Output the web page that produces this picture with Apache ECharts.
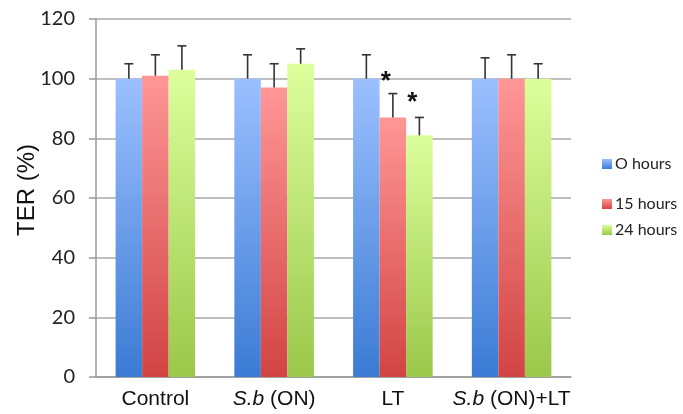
<!DOCTYPE html>
<html>
<head>
<meta charset="utf-8">
<script src="https://cdn.jsdelivr.net/npm/echarts@6/dist/echarts.min.js"></script>
<style>html,body{margin:0;padding:0;background:#fff;}#c{width:683px;height:414px;}</style>
</head>
<body>
<div id="c"></div>
<script>
var categories = ['Control', 'S.b (ON)', 'LT', 'S.b (ON)+LT'];
var seriesNames = ['O hours', '15 hours', '24 hours'];
var hours0 = [100, 100, 100, 100];
var hours15 = [101, 97, 87, 100];
var hours24 = [103, 105, 81, 100];
var err0 = [5, 8, 8, 7];
var err15 = [7, 8, 8, 8];
var err24 = [8, 5, 6, 5];
var yTicks = [0, 20, 40, 60, 80, 100, 120];
// asterisks: [category index, series index, value]
var asterisks = [[2, 1, 99], [2, 2, 92]];

var values = [hours0, hours15, hours24];
var errs = [err0, err15, err24];
var topColors = ['#9cc0ff', '#ff9696', '#dcff9c'];
var bottomColors = ['#3b7bd4', '#d24444', '#9bc74a'];
var legendColors = ['#4f8ae0', '#e05252', '#a6d05a'];
var barCatGap = 0.33;

function grad(i) {
  return new echarts.graphic.LinearGradient(0, 0, 0, 1, [
    {offset: 0, color: topColors[i]},
    {offset: 1, color: bottomColors[i]}
  ]);
}

var series = [];
for (var i = 0; i < 3; i++) {
  series.push({
    name: seriesNames[i],
    type: 'bar',
    data: values[i],
    barGap: '0%',
    barCategoryGap: (barCatGap * 100) + '%',
    itemStyle: {color: grad(i)},
    z: 2
  });
}

var errData = [];
for (var s = 0; s < 3; s++) {
  for (var c = 0; c < categories.length; c++) {
    errData.push([c, s, values[s][c], values[s][c] + errs[s][c]]);
  }
}

function barOffset(api, s) {
  var catW = api.size([1, 0])[0];
  var barW = catW * (1 - barCatGap) / 3;
  return (s - 1) * barW;
}

series.push({
  type: 'custom',
  z: 5,
  silent: true,
  data: errData,
  renderItem: function (params, api) {
    var c = api.value(0), s = api.value(1);
    var off = barOffset(api, s);
    var p0 = api.coord([c, api.value(2)]);
    var p1 = api.coord([c, api.value(3)]);
    var x = p0[0] + off;
    var st = {stroke: '#333', lineWidth: 1.6};
    return {type: 'group', children: [
      {type: 'line', shape: {x1: x, y1: p0[1], x2: x, y2: p1[1]}, style: st},
      {type: 'line', shape: {x1: x - 4.5, y1: p1[1], x2: x + 4.5, y2: p1[1]}, style: st}
    ]};
  }
});

series.push({
  type: 'custom',
  z: 6,
  silent: true,
  data: asterisks,
  renderItem: function (params, api) {
    var c = api.value(0), s = api.value(1);
    var off = barOffset(api, s);
    var p = api.coord([c, api.value(2)]);
    return {type: 'text', x: p[0] + off - 7, y: p[1], style: {
      text: '*', fontSize: 26, fontWeight: 'bold', fill: '#111',
      fontFamily: 'Liberation Sans', align: 'center', verticalAlign: 'middle'
    }};
  }
});

var legends = [];
var legendTops = [156, 196, 222];
for (var k = 0; k < 3; k++) {
  legends.push({
    data: [seriesNames[k]],
    left: 602,
    top: legendTops[k],
    padding: 0,
    icon: 'rect',
    itemWidth: 10,
    itemHeight: 10,
    itemGap: 4,
    selectedMode: false,
    textStyle: {fontSize: 16, color: '#222', fontFamily: 'Lato', padding: [0, 0, 0, -2]}
  });
}

var option = {
  animation: false,
  backgroundColor: '#fff',
  color: legendColors,
  grid: {left: 96, right: 112, top: 19, bottom: 37},
  legend: legends,
  xAxis: {
    type: 'category',
    data: categories,
    axisLine: {lineStyle: {color: '#999', width: 1.5}},
    axisTick: {show: false},
    axisLabel: {
      interval: 0,
      margin: 12,
      fontSize: 21,
      color: '#111',
      fontFamily: 'Liberation Sans',
      formatter: function (v) {
        if (v.indexOf('S.b') === 0) return '{i|S.b}' + v.slice(3);
        return v;
      },
      rich: {i: {fontStyle: 'italic', fontSize: 21, color: '#111', fontFamily: 'Liberation Sans'}}
    }
  },
  yAxis: {
    type: 'value',
    min: yTicks[0],
    max: yTicks[yTicks.length - 1],
    interval: yTicks[1] - yTicks[0],
    name: 'TER (%)',
    nameLocation: 'middle',
    nameGap: 57,
    nameMoveOverlap: false,
    nameRotate: 90,
    nameTextStyle: {fontSize: 24, color: '#111', fontFamily: 'Liberation Sans', padding: [0, 0, 0, 16]},
    axisLine: {show: true, lineStyle: {color: '#999', width: 1.5}},
    axisTick: {show: true, inside: false, length: 7, lineStyle: {color: '#999', width: 1.5}},
    axisLabel: {margin: 21, fontSize: 20, color: '#222', fontFamily: 'Lato'},
    splitLine: {lineStyle: {color: '#a8a8a8', width: 1.5}}
  },
  series: series
};

var chart = echarts.init(document.getElementById('c'), null, {renderer: 'canvas'});
chart.setOption(option);
</script>
</body>
</html>
